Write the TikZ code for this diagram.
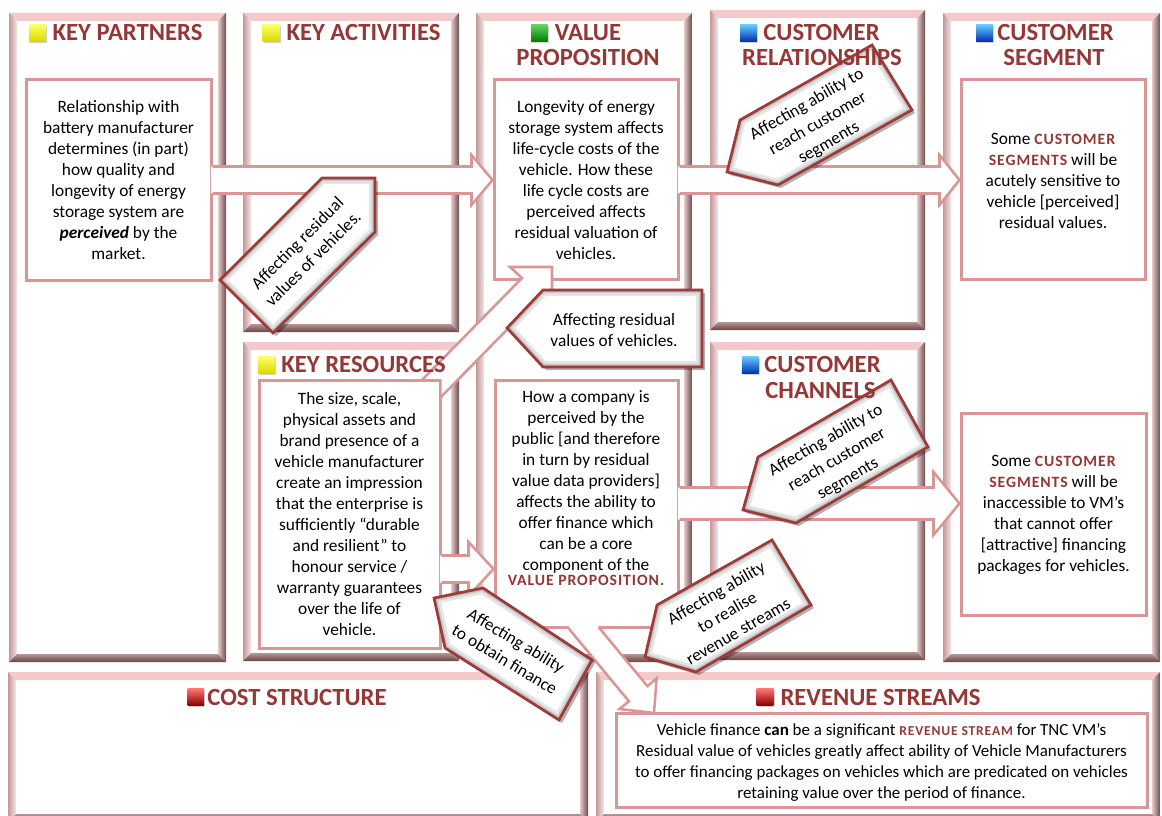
\documentclass[tikz,border=0pt]{standalone}
\usepackage{fontspec}
\setmainfont{Carlito}
\newfontfamily\capsfont[LetterSpace=6]{Carlito}
\usetikzlibrary{calc,shadows}
\definecolor{hdr}{HTML}{953735}
\definecolor{pinkln}{HTML}{D99694}
\definecolor{cored}{HTML}{9E3A38}
\definecolor{frTop}{HTML}{F3C9C9}
\definecolor{frLo}{HTML}{C29898}
\definecolor{frLi}{HTML}{F6E6E6}
\definecolor{frRi}{HTML}{E4CACA}
\definecolor{frRo}{HTML}{6E4C4C}
\definecolor{frBi}{HTML}{B89494}
\definecolor{frBo}{HTML}{684646}

\newcommand\redcaps[1]{{\capsfont\bfseries\fontsize{11.8}{15.75}\selectfont\color{hdr}#1}}
\newcommand\redcapsS[1]{{\capsfont\bfseries\fontsize{10.2}{15.75}\selectfont\color{hdr}#1}}

\newcommand\bevelframe[4]{%
  \fill[frTop] (#1,#2) -- (#3,#2) -- ({#3-8},{#2+8}) -- ({#1+8},{#2+8}) -- cycle;
  \shade[left color=frLo, right color=frLi] (#1,#2) -- ({#1+8},{#2+8}) -- ({#1+8},{#4-8}) -- (#1,#4) -- cycle;
  \shade[left color=frRi, right color=frRo] (#3,#2) -- ({#3-8},{#2+8}) -- ({#3-8},{#4-8}) -- (#3,#4) -- cycle;
  \shade[top color=frBi, bottom color=frBo] (#1,#4) -- ({#1+8},{#4-8}) -- ({#3-8},{#4-8}) -- (#3,#4) -- cycle;
}

\newcommand\calloutshape[1]{%
  \fill[black, opacity=0.3, shift={(3,3)}] #1;
  \fill[white] #1;
  \begin{scope}
    \clip #1;
    \draw[line width=9pt, black!10] #1;
    \draw[line width=5pt, black!20] #1;
    \draw[line width=2.6pt, black!32] #1;
  \end{scope}
  \draw[cored, line width=2pt, line join=miter] #1;
}

\newcommand\harrow[5]{%
  \fill[white] ($(#1)+(-1.6,-#3)$) -- ($(#2)+(-#5,-#3)$) -- ($(#2)+(-#5,-#4)$) -- (#2) -- ($(#2)+(-#5,#4)$) -- ($(#2)+(-#5,#3)$) -- ($(#1)+(-1.6,#3)$) -- cycle;
  \draw[arrln] ($(#1)+(0,-#3)$) -- ($(#2)+(-#5,-#3)$) -- ($(#2)+(-#5,-#4)$) -- (#2) -- ($(#2)+(-#5,#4)$) -- ($(#2)+(-#5,#3)$) -- ($(#1)+(0,#3)$);
}

\tikzset{
  hdr/.style={font=\bfseries\fontsize{18.5}{20}\selectfont, text=hdr, inner sep=0},
  body/.style={font=\fontsize{13}{15.75}\selectfont, align=center, inner sep=0},
  rotbody/.style={font=\fontsize{13}{16.6}\selectfont, align=center, inner sep=0},
  rsbody/.style={font=\fontsize{12.7}{15.75}\selectfont, align=center, inner sep=0},
  tbox/.style={draw=pinkln, line width=2.25pt, fill=white, inner sep=0},
  arrln/.style={draw=pinkln, line width=1.9pt, line join=miter},
  sqbase/.style={minimum size=12.5pt, inner sep=0, drop shadow={shadow xshift=0.9pt, shadow yshift=-0.9pt, opacity=0.35}},
  sqY/.style={sqbase, top color=yellow!60!white, bottom color=yellow!85!black},
  sqG/.style={sqbase, top color=green!70!black!60!white, bottom color=green!50!black},
  sqB/.style={sqbase, top color=blue!35!cyan!60!white, bottom color=blue!60!black!80!cyan},
  sqR/.style={sqbase, top color=red!55!white, bottom color=red!55!black}
}

\begin{document}
\begin{tikzpicture}[x=0.75pt,y=-0.75pt]
\useasboundingbox (0,0) rectangle (1162,816);
\clip (0,0) rectangle (1162,816);
\fill[white] (0,0) rectangle (1162,816);

% ---- column frames
\bevelframe{9}{13}{226}{662}
\bevelframe{243}{13}{459}{332}
\bevelframe{243}{342}{459}{661}
\bevelframe{476}{13}{692}{662}
\bevelframe{710}{10}{925}{330}
\bevelframe{710}{342}{925}{660}
\bevelframe{943}{13}{1160}{662}
\bevelframe{8}{672}{588}{822}
\bevelframe{596}{672}{1160}{822}

% ---- text boxes
\node[tbox, minimum width=138.75pt, minimum height=150.75pt] (kp) at (118.5,180.5) {};
\node[tbox, minimum width=138pt, minimum height=150pt] (vp1) at (586,180) {};
\node[tbox, minimum width=138pt, minimum height=150pt] (cs1) at (1053,180) {};
\node[tbox, minimum width=135.75pt, minimum height=201pt] (kr) at (349.5,514) {};
\node[tbox, minimum width=137.25pt, minimum height=185.25pt] (vp2) at (586.5,503.5) {};
\node[tbox, minimum width=138.75pt, minimum height=151.5pt] (cs2) at (1053.5,514) {};
\node[tbox, minimum width=398.25pt, minimum height=70.5pt] (rs) at (881.5,760) {};

% ---- block arrows
\coordinate (a1s) at (kp.east |- vp1.west);
\coordinate (a1t) at (vp1.west);
\coordinate (a2s) at (vp1.east);
\coordinate (a2t) at (cs1.west |- vp1.east);
\coordinate (a3s) at (vp2.east);
\coordinate (a3t) at (cs2.west |- vp2.east);
\coordinate (a5s) at (kr.east |- 0,569);
\coordinate (a5t) at (vp2.west |- 0,569);
\harrow{a1s}{a1t}{13.5}{25}{21}
\harrow{a2s}{a2t}{13.5}{25}{20}
\harrow{a3s}{a3t}{16}{31.5}{26}
\harrow{a5s}{a5t}{13.5}{27}{25}

% diagonal arrow: key resources -> value proposition (up)
\fill[white] (422,380) -- (522,278) -- (510,267) -- (552,267) -- (552,308) -- (540,296) -- (440,398) -- (441.7,398) -- (441.7,378.3) -- (422,378.3) -- cycle;
\draw[arrln] (422,380) -- (522,278) -- (510,267) -- (552,267) -- (552,308) -- (540,296) -- (440,398);
% diagonal arrow: value proposition -> revenue streams (down)
\fill[white] (567.5,627) -- (628.9,701.3) -- (619.6,709) -- (654,713) -- (656.6,678.4) -- (647.4,686.1) -- (598.5,627) -- (598.5,625) -- (567.5,625) -- cycle;
\draw[arrln] (567.5,627) -- (628.9,701.3) -- (619.6,709) -- (654,713) -- (656.6,678.4) -- (647.4,686.1) -- (598.5,627);

% ---- callouts
\calloutshape{(322,178) -- (375,178) -- (375,232) -- (273,333) -- (220,280) -- cycle}
\calloutshape{(740,120) -- (872,45) -- (912,110) -- (778,185) -- (727,172) -- cycle}
\calloutshape{(507,328) -- (543,290) -- (702,290) -- (702,367) -- (543,367) -- cycle}
\calloutshape{(758,457) -- (891,380) -- (928,447) -- (796,523) -- (743,510) -- cycle}
\calloutshape{(657,605) -- (772,540) -- (811,605) -- (696,672) -- (645,657) -- cycle}
\calloutshape{(434,598) -- (483,588) -- (592,660) -- (559,720) -- (445,648) -- cycle}

% ---- headers
\node[hdr] (hkp) at (127.5,33) {KEY PARTNERS};
\node[sqY, anchor=east] (skp) at ([xshift=-5pt]hkp.west) {};
\node[hdr] (hka) at (363.5,33) {KEY ACTIVITIES};
\node[sqY, anchor=east] (ska) at ([xshift=-5pt]hka.west) {};
\node[hdr] (hvp) at (588,33) {VALUE};
\node[hdr] (hvp2) at (588,58) {PROPOSITION};
\node[sqG, anchor=east] (svp) at ([xshift=-5pt]hvp.west) {};
\node[hdr] (hcr) at (821.5,33) {CUSTOMER};
\node[hdr] (hcr2) at (822,58) {RELATIONSHIPS};
\node[sqB, anchor=east] (scr) at ([xshift=-4.5pt]hcr.west) {};
\node[hdr] (hcs) at (1055.5,33) {CUSTOMER};
\node[hdr] (hcs2) at (1054,58) {SEGMENT};
\node[sqB, anchor=east] (scs) at ([xshift=-3pt]hcs.west) {};
\node[hdr] (hkr) at (363.5,365) {KEY RESOURCES};
\node[sqY, anchor=east] (skr) at ([xshift=-4.5pt]hkr.west) {};
\node[hdr] (hcc) at (822.5,365) {CUSTOMER};
\node[hdr] (hcc2) at (820.5,390) {CHANNELS};
\node[sqB, anchor=east] (scc) at ([xshift=-4pt]hcc.west) {};
\node[hdr] (hco) at (297,697) {COST STRUCTURE};
\node[sqR, anchor=east] (sco) at ([xshift=-2pt]hco.west) {};
\node[hdr] (hrs) at (880.5,697) {REVENUE STREAMS};
\node[sqR, anchor=east] (srs) at ([xshift=-5pt]hrs.west) {};

% ---- body texts
\node[body] (tkp) at (118.5,180.5) {Relationship with\\battery manufacturer\\determines (in part)\\how quality and\\longevity of energy\\storage system are\\\textbf{\textit{perceived}} by the\\market.};
\node[body] (tvp1) at (586,180.5) {Longevity of energy\\storage system affects\\life-cycle costs of the\\vehicle. How these\\life cycle costs are\\perceived affects\\residual valuation of\\vehicles.};
\node[body] (tcs1) at (1053,180.5) {Some \redcaps{CUSTOMER}\\\redcaps{SEGMENTS} will be\\acutely sensitive to\\vehicle [perceived]\\residual values.};
\node[body] (tkr) at (349.5,514) {The size, scale,\\physical assets and\\brand presence of a\\vehicle manufacturer\\create an impression\\that the enterprise is\\sufficiently “durable\\and resilient” to\\honour service /\\warranty guarantees\\over the life of\\vehicle.};
\node[body] (tvp2) at (586,488) {How a company is\\perceived by the\\public [and therefore\\in turn by residual\\value data providers]\\affects the ability to\\offer finance which\\can be a core\\component of the\\[-4pt]\redcaps{VALUE PROPOSITION.}};
\node[body] (tcs2) at (1053.5,515) {Some \redcaps{CUSTOMER}\\\redcaps{SEGMENTS} will be\\inaccessible to VM’s\\that cannot offer\\{}[attractive] financing\\packages for vehicles.};
\node[rsbody] (trs) at (881.5,762) {Vehicle finance \textbf{can} be a significant \redcapsS{REVENUE STREAM} for TNC VM’s\\Residual value of vehicles greatly affect ability of Vehicle Manufacturers\\to offer financing packages on vehicles which are predicated on vehicles\\retaining value over the period of finance.};

% ---- callout texts
\node[rotbody, rotate=45] (c1) at (305,251) {Affecting residual\\values of vehicles.};
\node[rotbody, rotate=30] (c2) at (818,124) {Affecting ability to\\reach customer\\segments};
\node[body] (c3) at (614,330) {Affecting residual\\values of vehicles.};
\node[rotbody, rotate=30] (c4) at (837,460) {Affecting ability to\\reach customer\\segments};
\node[rotbody, rotate=30] (c5) at (727,612) {Affecting ability\\to realise\\revenue streams};
\node[rotbody, rotate=-31] (c6) at (510.5,650) {Affecting ability\\to obtain finance};
\end{tikzpicture}
\end{document}
